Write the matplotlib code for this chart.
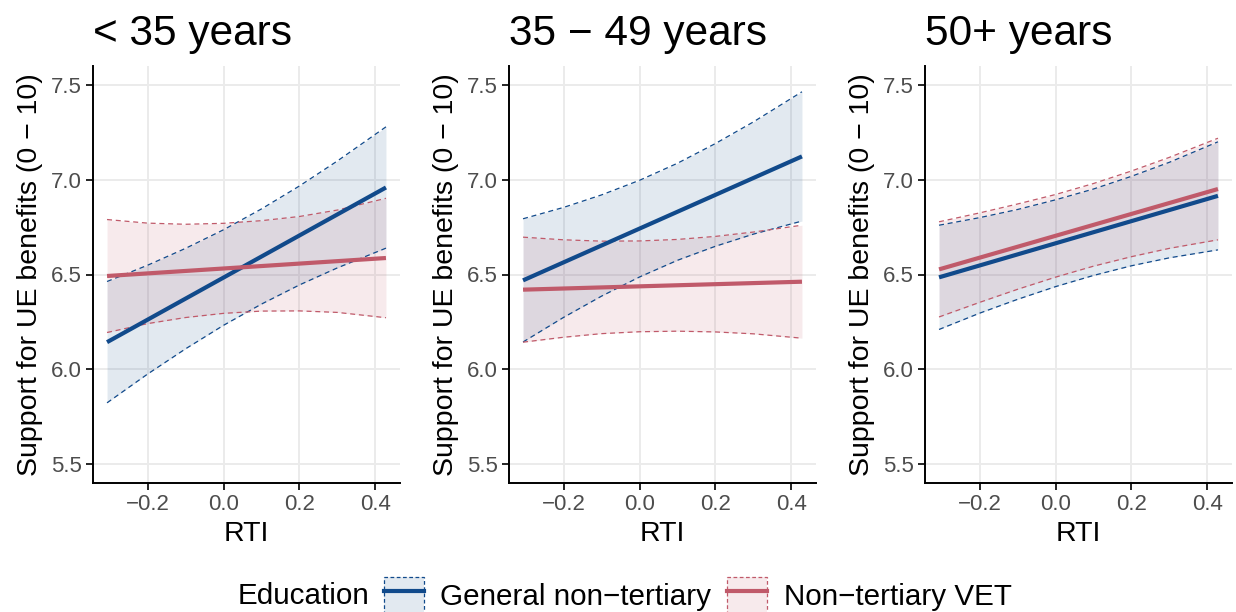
import numpy as np
import matplotlib
matplotlib.use("Agg")
import matplotlib.pyplot as plt
from matplotlib.patches import Patch
from matplotlib.lines import Line2D

plt.rcParams['font.family'] = ['Liberation Sans', 'DejaVu Sans']

# data
panels = ["< 35 years", "35 − 49 years", "50+ years"]
rti_ends = [-0.307, 0.428]
rti_band = [-0.307, -0.2, -0.1, 0.0, 0.1, 0.2, 0.3, 0.428]

gen_fit = [[6.143, 6.959], [6.469, 7.123], [6.485, 6.915]]
gen_hi = [[6.463, 6.549, 6.638, 6.736, 6.846, 6.967, 7.099, 7.279],
          [6.794, 6.854, 6.920, 6.997, 7.087, 7.191, 7.305, 7.464],
          [6.760, 6.800, 6.843, 6.894, 6.951, 7.018, 7.092, 7.200]]
gen_lo = [[5.823, 5.975, 6.108, 6.232, 6.344, 6.445, 6.535, 6.639],
          [6.144, 6.274, 6.386, 6.487, 6.575, 6.649, 6.713, 6.782],
          [6.210, 6.296, 6.369, 6.436, 6.495, 6.546, 6.588, 6.630]]

vet_fit = [[6.492, 6.587], [6.42, 6.462], [6.527, 6.951]]
vet_hi = [[6.790, 6.771, 6.765, 6.770, 6.784, 6.806, 6.840, 6.902],
          [6.697, 6.683, 6.676, 6.677, 6.685, 6.701, 6.724, 6.760],
          [6.778, 6.825, 6.872, 6.922, 6.980, 7.046, 7.118, 7.219]]
vet_lo = [[6.194, 6.241, 6.273, 6.295, 6.307, 6.308, 6.300, 6.272],
          [6.143, 6.169, 6.188, 6.198, 6.201, 6.197, 6.187, 6.164],
          [6.276, 6.353, 6.422, 6.486, 6.544, 6.594, 6.638, 6.683]]

groups = ["General non−tertiary", "Non−tertiary VET"]
blue = "#114a8b"
red = "#c05a6a"

fig = plt.figure(figsize=(12.36, 6.12), dpi=100)
W, H = 1236, 612
lefts = [93, 509, 925]

for i, title in enumerate(panels):
    ax = fig.add_axes([lefts[i] / W, 1 - 483 / H, 307 / W, 417 / H])

    # ribbons with dashed bounds, then fitted lines
    for lo, hi, col in [(gen_lo[i], gen_hi[i], blue), (vet_lo[i], vet_hi[i], red)]:
        ax.fill_between(rti_band, lo, hi, color=col, alpha=0.12, lw=0)
        ax.plot(rti_band, lo, color=col, lw=0.9, ls=(0, (4, 3)))
        ax.plot(rti_band, hi, color=col, lw=0.9, ls=(0, (4, 3)))
    ax.plot(rti_ends, gen_fit[i], color=blue, lw=3, solid_capstyle="butt")
    ax.plot(rti_ends, vet_fit[i], color=red, lw=3, solid_capstyle="butt")

    ax.set_xlim(-0.344, 0.465)
    ax.set_ylim(5.4, 7.6)
    ax.set_xticks([-0.2, 0.0, 0.2, 0.4])
    ax.set_yticks([5.5, 6.0, 6.5, 7.0, 7.5])
    ax.set_xticklabels(["−0.2", "0.0", "0.2", "0.4"])
    ax.set_yticklabels(["5.5", "6.0", "6.5", "7.0", "7.5"])
    ax.grid(True, color="#ebebeb", lw=1.4)
    ax.set_axisbelow(True)
    for s in ["top", "right"]:
        ax.spines[s].set_visible(False)
    for s in ["left", "bottom"]:
        ax.spines[s].set_linewidth(1.4)
    ax.tick_params(length=5, width=1.2, labelsize=16, labelcolor="#4d4d4d", pad=3)
    ax.set_xlabel("RTI", fontsize=20.5, labelpad=4)
    ax.set_ylabel("Support for UE benefits (0 − 10)", fontsize=20.5, labelpad=6)
    ax.set_title(title, loc="left", fontsize=30.5, pad=15)

handles = [(Patch(facecolor=blue, alpha=0.12, lw=0),
            Patch(facecolor="none", edgecolor=blue, ls=(0, (3, 2)), lw=0.9),
            Line2D([], [], color=blue, lw=3)),
           (Patch(facecolor=red, alpha=0.12, lw=0),
            Patch(facecolor="none", edgecolor=red, ls=(0, (3, 2)), lw=0.9),
            Line2D([], [], color=red, lw=3))]
fig.text(238 / W, 1 - 596 / H, "Education", fontsize=21.3, va="center", ha="left")
fig.legend(handles, groups, loc="center left", bbox_to_anchor=(384 / W, 1 - 595 / H),
           ncol=2, frameon=False, fontsize=21.3, borderpad=0, borderaxespad=0,
           handlelength=1.35, handleheight=1.45, handletextpad=0.55, columnspacing=0.55)

fig.savefig("out.png", dpi=100)
